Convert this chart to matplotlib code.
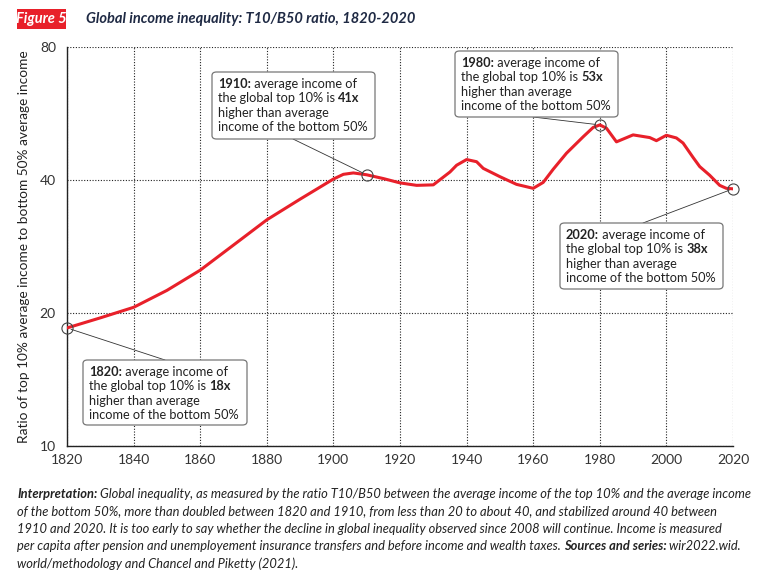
import matplotlib
matplotlib.use("Agg")
import matplotlib.pyplot as plt
from matplotlib.patches import FancyBboxPatch, Rectangle
from matplotlib.ticker import FixedLocator, NullLocator

plt.rcParams['font.family'] = ['Lato', 'DejaVu Sans']

# data
years = [1820, 1830, 1840, 1850, 1860, 1870, 1880, 1890, 1900, 1903, 1906, 1910,
         1915, 1920, 1925, 1930, 1935, 1937, 1940, 1943, 1945, 1950, 1955, 1960,
         1963, 1966, 1970, 1975, 1978, 1980, 1982, 1985, 1990, 1995, 1997, 2000,
         2003, 2005, 2008, 2010, 2013, 2016, 2018, 2020]
ratio = [18.5, 19.5, 20.6, 22.5, 25.0, 28.5, 32.5, 36.2, 40.2, 41.2, 41.5, 41.1,
         40.3, 39.4, 38.9, 39.0, 41.7, 43.2, 44.5, 44.0, 42.5, 40.7, 39.1, 38.3,
         39.5, 42.3, 46.0, 50.1, 52.6, 53.3, 52.4, 48.8, 50.6, 49.9, 49.1, 50.5,
         49.8, 48.5, 45.0, 42.9, 41.0, 38.9, 38.3, 38.2]
x_ticks = [1820, 1840, 1860, 1880, 1900, 1920, 1940, 1960, 1980, 2000, 2020]
y_ticks = [10, 20, 40, 80]
callout_years = [1910, 1980, 2020, 1820]
callout_values = ["41x", "53x", "38x", "18x"]

W, H = 764, 575
fig = plt.figure(figsize=(W / 100, H / 100), dpi=100)

def fx(x):
    return x / W

def fy(y):
    return 1 - y / H

ax = fig.add_axes([fx(67), fy(446), fx(733) - fx(67), fy(47) - fy(446)])
red = '#e8202a'
ax.plot(years, ratio, color=red, lw=2.2, solid_capstyle='round',
        solid_joinstyle='round', zorder=3)
ax.set_yscale('log')
ax.set_xlim(1820, 2020)
ax.set_ylim(10, 80)
ax.yaxis.set_major_locator(FixedLocator(y_ticks))
ax.yaxis.set_minor_locator(NullLocator())
ax.set_yticklabels([str(v) for v in y_ticks])
ax.set_xticks(x_ticks)
ax.grid(True, ls=(0, (1, 1.5)), color='#222222', lw=0.8)
for s in ['top', 'right']:
    ax.spines[s].set_visible(False)
for s in ['left', 'bottom']:
    ax.spines[s].set_color('#222222')
    ax.spines[s].set_linewidth(1.0)
ax.tick_params(axis='both', length=0, labelsize=10, colors='#333333', pad=6)
ax.tick_params(axis='y', pad=8)
ax.set_ylabel('Ratio of top 10% average income to bottom 50% average income',
              fontsize=9.8, color='#222222', labelpad=7)

# highlighted points
pts = [(y, ratio[years.index(y)]) for y in callout_years]
ax.plot([p[0] for p in pts], [p[1] for p in pts], 'o', mfc='none', mec='#444444',
        ms=8, mew=0.8, zorder=4, clip_on=False)

renderer = fig.canvas.get_renderer()

def seg_text(x, y, parts, size, style='normal', color='#222222'):
    # draw a line made of (text, bold) pieces starting at pixel x, y
    cx = x
    for txt, bold in parts:
        t = fig.text(fx(cx), fy(y), txt, fontsize=size, fontstyle=style,
                     fontweight='bold' if bold else 'normal', color=color,
                     va='center', ha='left', zorder=7)
        bb = t.get_window_extent(renderer)
        cx += bb.width

# callout boxes: (box left, top, right, bottom), connector start
boxes = [(212, 72, 375, 139, (293, 139)),
         (455, 51, 618, 117, (533, 117)),
         (560, 223, 723, 289, (643, 223)),
         (83, 360, 247, 425, (165, 360))]

for (yr, val), mult, (l, t, r, b, start) in zip(pts, callout_values, boxes):
    ax.annotate('', xy=(yr, val), xytext=(fx(start[0]), fy(start[1])),
                textcoords='figure fraction', annotation_clip=False,
                arrowprops=dict(arrowstyle='-', lw=0.6, color='#333333',
                                shrinkA=0, shrinkB=3))
    box = FancyBboxPatch((fx(l), fy(b)), fx(r) - fx(l), fy(t) - fy(b),
                         boxstyle='round,pad=0,rounding_size=0.006',
                         transform=fig.transFigure, facecolor='white',
                         edgecolor='#777777', lw=0.9, zorder=5)
    fig.patches.append(box)
    lines = [[(f'{yr}:', True), (' average income of', False)],
             [('the global top 10% is ', False), (mult, True)],
             [('higher than average', False)],
             [('income of the bottom 50%', False)]]
    for i, parts in enumerate(lines):
        seg_text(l + 6, t + 12 + i * 14.3, parts, 9.2)

# header
fig.patches.append(Rectangle((fx(17), fy(29)), fx(66) - fx(17), fy(9) - fy(29),
                             transform=fig.transFigure, facecolor=red,
                             edgecolor='none'))
fig.text(fx(41.5), fy(19), 'Figure 5', fontsize=10.5, fontstyle='italic',
         fontweight='bold', color='white', ha='center', va='center')
fig.text(fx(86), fy(19), 'Global income inequality: T10/B50 ratio, 1820-2020',
         fontsize=10.5, fontstyle='italic', fontweight='bold', color='#1f2a44',
         ha='left', va='center')

# footnote
foot = [
    [('Interpretation:', True), (' Global inequality, as measured by the ratio T10/B50 between the average income of the top 10% and the average income', False)],
    [('of the bottom 50%, more than doubled between 1820 and 1910, from less than 20 to about 40, and stabilized around 40 between', False)],
    [('1910 and 2020. It is too early to say whether the decline in global inequality observed since 2008 will continue. Income is measured', False)],
    [('per capita after pension and unemployement insurance transfers and before income and wealth taxes. ', False), ('Sources and series:', True), (' wir2022.wid.', False)],
    [('world/methodology and Chancel and Piketty (2021).', False)],
]
for i, parts in enumerate(foot):
    seg_text(17, 494 + i * 17.5, parts, 9.3, style='italic', color='#222222')

fig.savefig('out.png', dpi=100)
